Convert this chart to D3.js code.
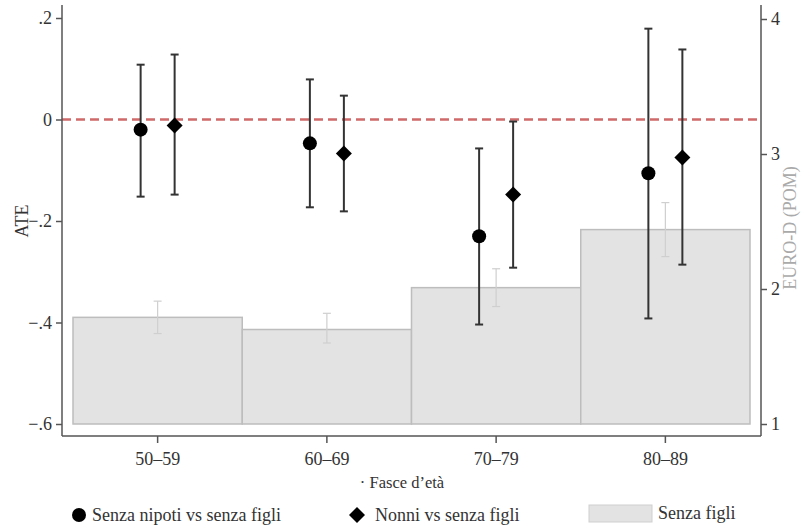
<!DOCTYPE html>
<html>
<head>
<meta charset="utf-8">
<script src="https://cdn.jsdelivr.net/npm/d3@7"></script>
<style>
  body { margin: 0; background: #fff; }
  svg text { font-family: "Liberation Serif", "DejaVu Serif", serif; }
</style>
</head>
<body>
<div id="chart"></div>
<script>
// Data
const groups = ["50–59", "60–69", "70–79", "80–89"];

// EURO-D (POM) for "Senza figli" (bars, right axis)
const barValues = [1.79, 1.70, 2.01, 2.44];
const barLow = [1.67, 1.60, 1.87, 2.24];
const barHigh = [1.91, 1.82, 2.15, 2.64];

// ATE: Senza nipoti vs senza figli (circles)
const nipotiAte = [-0.020, -0.047, -0.230, -0.106];
const nipotiLow = [-0.152, -0.173, -0.404, -0.392];
const nipotiHigh = [0.108, 0.079, -0.057, 0.179];

// ATE: Nonni vs senza figli (diamonds)
const nonniAte = [-0.012, -0.067, -0.148, -0.075];
const nonniLow = [-0.148, -0.181, -0.292, -0.286];
const nonniHigh = [0.128, 0.047, -0.004, 0.138];

const leftTicks = [-0.6, -0.4, -0.2, 0, 0.2];
const rightTicks = [1, 2, 3, 4];

const width = 803, height = 527;
const axisColor = "#555";
const textColor = "#333";

const svg = d3.select("#chart").append("svg")
    .attr("width", width)
    .attr("height", height);

// Scales
const x = d3.scaleBand()
    .domain(groups)
    .range([73, 750])
    .padding(0);

const yLeft = d3.scaleLinear()
    .domain([-0.6, 0.2])
    .range([424, 18]);

const yRight = d3.scaleLinear()
    .domain([1, 4])
    .range([424, 19]);

const plotLeft = 62, plotRight = 761, plotBottom = 436, plotTop = 5;

// Bars (Senza figli)
svg.selectAll(".bar")
    .data(groups)
    .join("rect")
    .attr("x", d => x(d))
    .attr("y", (d, i) => yRight(barValues[i]))
    .attr("width", x.bandwidth())
    .attr("height", (d, i) => yRight(1) - yRight(barValues[i]))
    .attr("fill", "#e3e3e3")
    .attr("stroke", "#bdbdbd")
    .attr("stroke-width", 1.5);

// Bar error bars (light)
const barCI = svg.append("g")
    .attr("stroke", "#cfcfcf")
    .attr("stroke-width", 1.2);
groups.forEach((g, i) => {
    const cx = x(g) + x.bandwidth() / 2;
    barCI.append("line").attr("x1", cx).attr("x2", cx)
        .attr("y1", yRight(barLow[i])).attr("y2", yRight(barHigh[i]));
    [barLow[i], barHigh[i]].forEach(v => {
        barCI.append("line").attr("x1", cx - 4).attr("x2", cx + 4)
            .attr("y1", yRight(v)).attr("y2", yRight(v));
    });
});

// Zero reference line
svg.append("line")
    .attr("x1", plotLeft)
    .attr("x2", plotRight)
    .attr("y1", yLeft(0))
    .attr("y2", yLeft(0))
    .attr("stroke", "#d06a6a")
    .attr("stroke-width", 2.5)
    .attr("stroke-dasharray", "9,5");

// Point estimates with CI
const offset = 17;
const series = [
    { ate: nipotiAte, low: nipotiLow, high: nipotiHigh, dx: -offset, shape: "circle" },
    { ate: nonniAte, low: nonniLow, high: nonniHigh, dx: offset, shape: "diamond" }
];

series.forEach(s => {
    const g = svg.append("g");
    groups.forEach((grp, i) => {
        const cx = x(grp) + x.bandwidth() / 2 + s.dx;
        g.append("line").attr("x1", cx).attr("x2", cx)
            .attr("y1", yLeft(s.low[i])).attr("y2", yLeft(s.high[i]))
            .attr("stroke", "#333").attr("stroke-width", 2);
        [s.low[i], s.high[i]].forEach(v => {
            g.append("line").attr("x1", cx - 4).attr("x2", cx + 4)
                .attr("y1", yLeft(v)).attr("y2", yLeft(v))
                .attr("stroke", "#333").attr("stroke-width", 2);
        });
        if (s.shape === "circle") {
            g.append("circle").attr("cx", cx).attr("cy", yLeft(s.ate[i]))
                .attr("r", 7).attr("fill", "#000");
        } else {
            g.append("path")
                .attr("transform", `translate(${cx},${yLeft(s.ate[i])})`)
                .attr("d", "M0,-8L8,0L0,8L-8,0Z")
                .attr("fill", "#000");
        }
    });
});

// Axes
const leftAxis = svg.append("g")
    .attr("transform", `translate(${plotLeft},0)`)
    .call(d3.axisLeft(yLeft).tickValues(leftTicks).tickSize(6).tickPadding(4)
        .tickFormat(d => d === 0 ? "0" : d3.format(".1f")(d).replace("0.", ".")));
leftAxis.select(".domain").remove();
leftAxis.append("line").attr("x1", 0).attr("x2", 0).attr("y1", plotTop).attr("y2", plotBottom);

const rightAxis = svg.append("g")
    .attr("transform", `translate(${plotRight},0)`)
    .call(d3.axisRight(yRight).tickValues(rightTicks).tickSize(6).tickPadding(4)
        .tickFormat(d3.format("d")));
rightAxis.select(".domain").remove();
rightAxis.append("line").attr("x1", 0).attr("x2", 0).attr("y1", plotTop).attr("y2", plotBottom);

const bottomAxis = svg.append("g")
    .attr("transform", `translate(0,${plotBottom})`)
    .call(d3.axisBottom(x).tickSize(7).tickPadding(9));
bottomAxis.select(".domain").remove();
bottomAxis.append("line").attr("x1", plotLeft).attr("x2", plotRight).attr("y1", 0).attr("y2", 0);

[leftAxis, rightAxis, bottomAxis].forEach(a => {
    a.attr("font-size", null).attr("font-family", null);
    a.selectAll("line").attr("stroke", axisColor).attr("stroke-width", 1.5);
    a.selectAll("text").attr("fill", textColor).style("font-size", "18px");
});

// Axis titles
svg.append("text")
    .attr("transform", "rotate(-90)")
    .attr("x", -221)
    .attr("y", 28)
    .attr("text-anchor", "middle")
    .attr("fill", textColor)
    .style("font-size", "18px")
    .text("ATE");

svg.append("text")
    .attr("transform", "rotate(-90)")
    .attr("x", -228)
    .attr("y", 796)
    .attr("text-anchor", "middle")
    .attr("fill", "#aaa")
    .style("font-size", "18px")
    .text("EURO-D (POM)");

svg.append("text")
    .attr("x", 402)
    .attr("y", 488)
    .attr("text-anchor", "middle")
    .attr("fill", textColor)
    .style("font-size", "16.5px")
    .text("· Fasce d’età");

// Legend
const legend = svg.append("g").attr("transform", "translate(0,515)");
legend.append("circle").attr("cx", 79).attr("cy", 0).attr("r", 7).attr("fill", "#000");
legend.append("text").attr("x", 92).attr("y", 6).attr("fill", textColor)
    .style("font-size", "18px").text("Senza nipoti vs senza figli");
legend.append("path").attr("transform", "translate(357,0)")
    .attr("d", "M0,-8L8,0L0,8L-8,0Z").attr("fill", "#000");
legend.append("text").attr("x", 375).attr("y", 6).attr("fill", textColor)
    .style("font-size", "18px").text("Nonni vs senza figli");
legend.append("rect").attr("x", 589).attr("y", -10).attr("width", 63).attr("height", 17)
    .attr("fill", "#e3e3e3").attr("stroke", "#cfcfcf");
legend.append("text").attr("x", 658).attr("y", 4).attr("fill", textColor)
    .style("font-size", "18px").text("Senza figli");
</script>
</body>
</html>
